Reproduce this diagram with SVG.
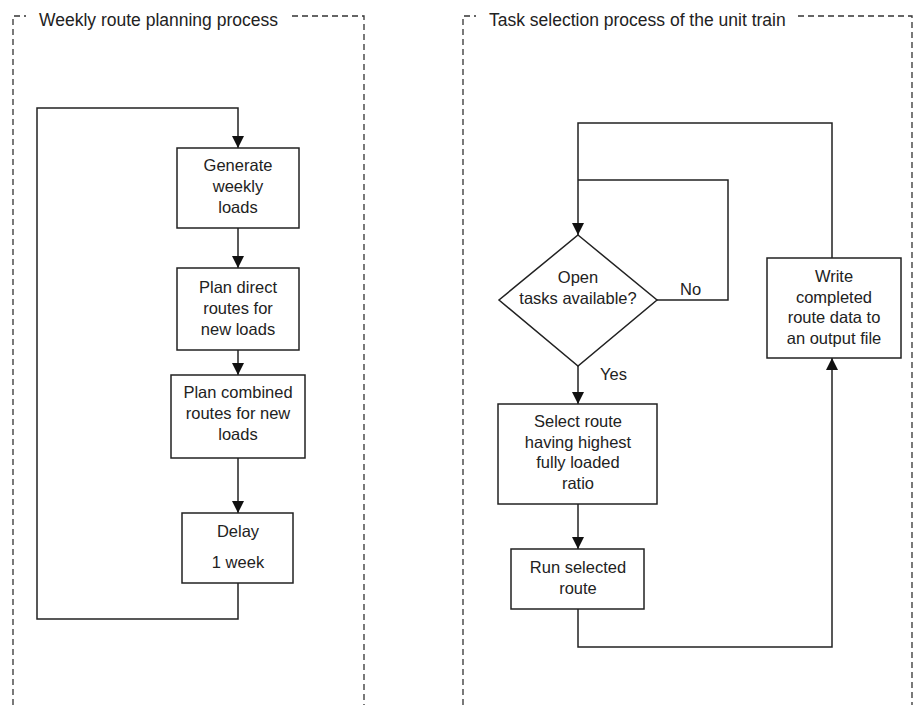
<svg xmlns="http://www.w3.org/2000/svg" width="914" height="705" viewBox="0 0 914 705">
  <defs>
    <marker id="arrow" viewBox="0 0 12 12" refX="12" refY="6" markerWidth="12" markerHeight="12" markerUnits="userSpaceOnUse" orient="auto">
      <path d="M0,0 L12,6 L0,12 Z" fill="#111"/>
    </marker>
    <style>
      .frame { fill: none; stroke: #333; stroke-width: 1.3; stroke-dasharray: 6 4; }
      .node { fill: #fff; stroke: #222; stroke-width: 1.5; }
      .edge { fill: none; stroke: #222; stroke-width: 1.5; }
      .arr { marker-end: url(#arrow); }
      text { font-family: "Liberation Sans", Arial, sans-serif; font-size: 16.5px; fill: #222; }
      .title { font-size: 17.5px; }
      .c { text-anchor: middle; }
    </style>
  </defs>
  <rect width="914" height="705" fill="#fff"/>

  <!-- dashed process frames -->
  <g id="frames">
    <path class="frame" d="M13,705 V16 H26"/>
    <path class="frame" d="M292,16 H364 V705"/>
    <path class="frame" d="M463,705 V16 H476"/>
    <path class="frame" d="M798,16 H912 V705"/>
    <text class="title" x="39" y="26">Weekly route planning process</text>
    <text class="title" x="489" y="26">Task selection process of the unit train</text>
  </g>

  <!-- connectors -->
  <g id="connectors">
    <path class="edge arr" d="M238,583 V619 H37 V108 H238 V148"/>
    <path class="edge arr" d="M238,228 V268"/>
    <path class="edge arr" d="M238,350 V375"/>
    <path class="edge arr" d="M238,458 V513"/>

    <path class="edge" d="M657,300 H728 V180 H578"/>
    <path class="edge arr" d="M832,258 V123 H578 V235"/>
    <path class="edge arr" d="M578,366 V404"/>
    <path class="edge arr" d="M578,504 V549"/>
    <path class="edge arr" d="M578,609 V647 H832 V358"/>
    <text x="680" y="295">No</text>
    <text x="600" y="380">Yes</text>
  </g>

  <!-- weekly route planning -->
  <g id="generate-loads">
    <rect class="node" x="177" y="148" width="122" height="80"/>
    <text class="c" x="238" y="171">Generate</text>
    <text class="c" x="238" y="192">weekly</text>
    <text class="c" x="238" y="213">loads</text>
  </g>
  <g id="plan-direct">
    <rect class="node" x="177" y="268" width="122" height="82"/>
    <text class="c" x="238" y="293">Plan direct</text>
    <text class="c" x="238" y="314">routes for</text>
    <text class="c" x="238" y="335">new loads</text>
  </g>
  <g id="plan-combined">
    <rect class="node" x="171" y="375" width="134" height="83"/>
    <text class="c" x="238" y="398">Plan combined</text>
    <text class="c" x="238" y="419">routes for new</text>
    <text class="c" x="238" y="440">loads</text>
  </g>
  <g id="delay">
    <rect class="node" x="182" y="513" width="111" height="70"/>
    <text class="c" x="238" y="537">Delay</text>
    <text class="c" x="238" y="568">1 week</text>
  </g>

  <!-- unit train task selection -->
  <g id="open-tasks">
    <path class="node" d="M578,235 L657,300 L578,366 L499,300 Z"/>
    <text class="c" x="578" y="283">Open</text>
    <text class="c" x="578" y="304">tasks available?</text>
  </g>
  <g id="select-route">
    <rect class="node" x="498" y="404" width="159" height="100"/>
    <text class="c" x="578" y="427">Select route</text>
    <text class="c" x="578" y="448">having highest</text>
    <text class="c" x="578" y="468">fully loaded</text>
    <text class="c" x="578" y="489">ratio</text>
  </g>
  <g id="run-route">
    <rect class="node" x="511" y="549" width="133" height="60"/>
    <text class="c" x="578" y="573">Run selected</text>
    <text class="c" x="578" y="594">route</text>
  </g>
  <g id="write-output">
    <rect class="node" x="767" y="258" width="134" height="100"/>
    <text class="c" x="834" y="282">Write</text>
    <text class="c" x="834" y="303">completed</text>
    <text class="c" x="834" y="323">route data to</text>
    <text class="c" x="834" y="344">an output file</text>
  </g>
</svg>
